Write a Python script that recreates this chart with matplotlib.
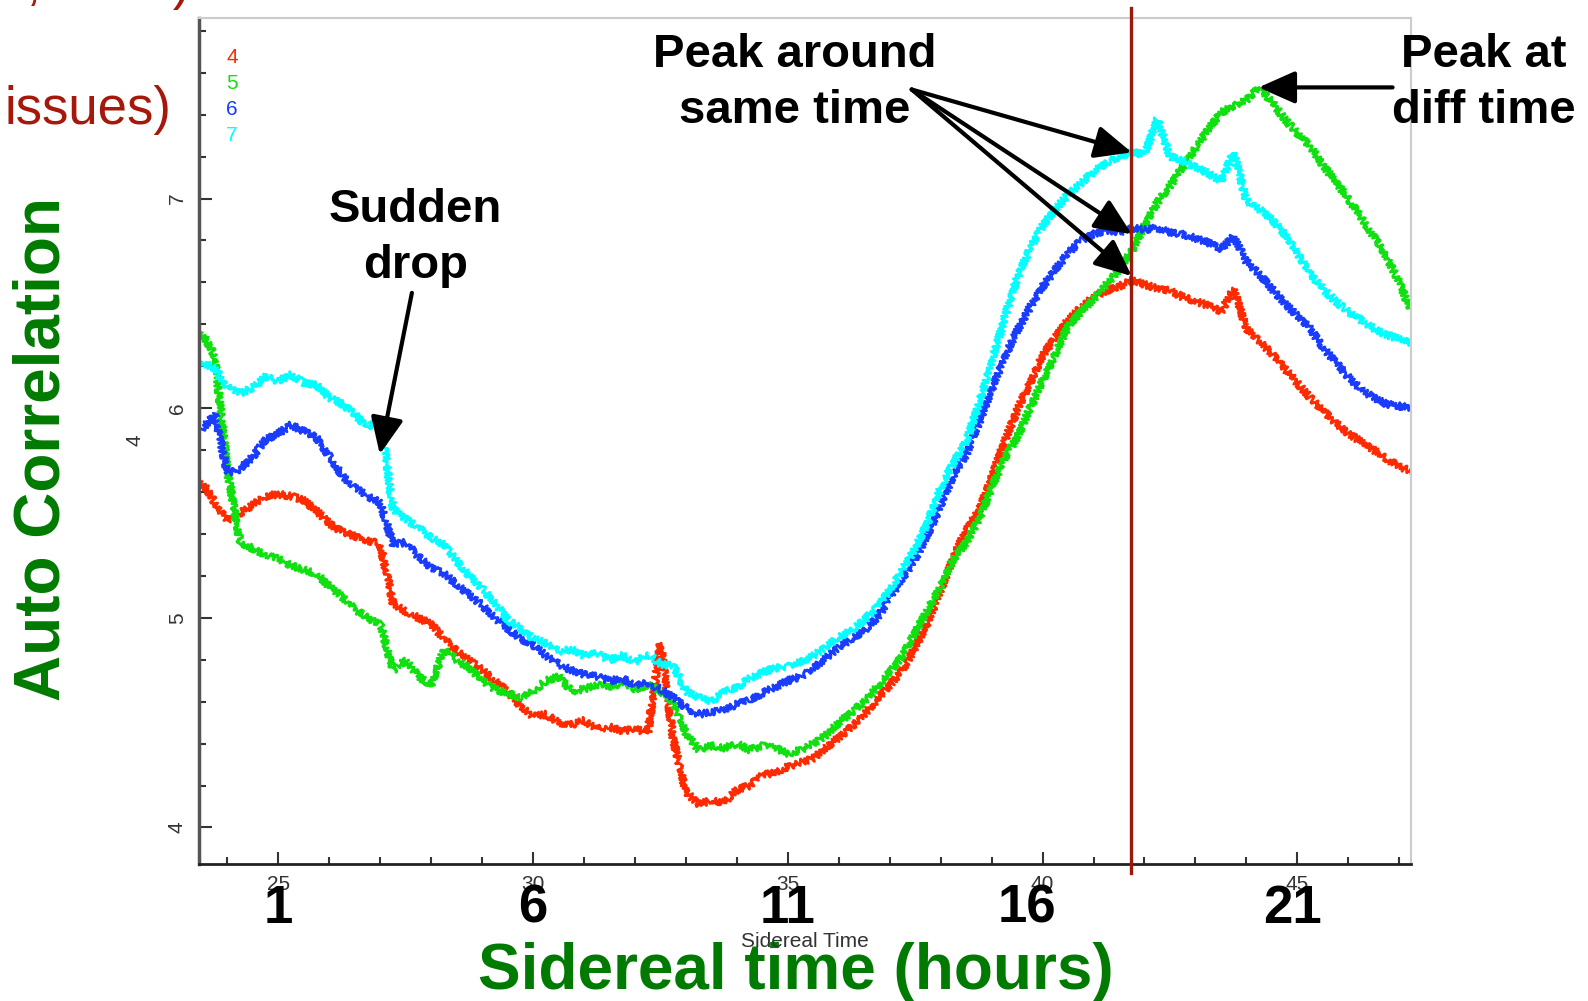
import numpy as np
import matplotlib
matplotlib.use("Agg")
import matplotlib.pyplot as plt
from matplotlib.ticker import MultipleLocator

plt.rcParams['font.family'] = ['Liberation Sans', 'DejaVu Sans']

# sidereal time samples (original plot units), one every 0.25
sidereal = np.arange(23.5, 47.26, 0.25)

# auto correlation per channel
chan4 = [5.65, 5.55, 5.46, 5.50, 5.54, 5.58, 5.59, 5.58,
         5.56, 5.51, 5.45, 5.41, 5.39, 5.37, 5.35, 5.07,
         5.03, 5.00, 4.97, 4.90, 4.84, 4.80, 4.75, 4.70,
         4.65, 4.58, 4.53, 4.54, 4.50, 4.49, 4.51, 4.47,
         4.48, 4.46, 4.47, 4.45, 4.88, 4.42, 4.17, 4.11,
         4.13, 4.12, 4.18, 4.20, 4.25, 4.26, 4.29, 4.31,
         4.33, 4.38, 4.43, 4.48, 4.54, 4.61, 4.68, 4.75,
         4.86, 4.98, 5.13, 5.29, 5.42, 5.51, 5.67, 5.84,
         5.99, 6.12, 6.25, 6.34, 6.42, 6.48, 6.53, 6.56,
         6.58, 6.61, 6.59, 6.57, 6.56, 6.53, 6.51, 6.49,
         6.46, 6.57, 6.38, 6.32, 6.26, 6.19, 6.12, 6.05,
         5.99, 5.93, 5.88, 5.84, 5.80, 5.76, 5.72, 5.70]
chan5 = [6.36, 6.25, 5.70, 5.36, 5.33, 5.30, 5.28, 5.25,
         5.23, 5.21, 5.15, 5.10, 5.04, 5.00, 4.97, 4.75,
         4.80, 4.72, 4.68, 4.85, 4.80, 4.76, 4.70, 4.66,
         4.64, 4.62, 4.65, 4.70, 4.72, 4.65, 4.66, 4.68,
         4.67, 4.69, 4.66, 4.68, 4.65, 4.60, 4.45, 4.37,
         4.39, 4.38, 4.40, 4.37, 4.39, 4.38, 4.35, 4.37,
         4.40, 4.44, 4.50, 4.55, 4.60, 4.67, 4.74, 4.82,
         4.93, 5.04, 5.15, 5.28, 5.36, 5.47, 5.62, 5.76,
         5.86, 6.00, 6.13, 6.26, 6.39, 6.46, 6.52, 6.59,
         6.66, 6.75, 6.87, 6.98, 7.06, 7.15, 7.24, 7.33,
         7.41, 7.44, 7.47, 7.53, 7.46, 7.38, 7.31, 7.25,
         7.16, 7.08, 7.00, 6.91, 6.82, 6.72, 6.60, 6.45]
chan6 = [5.90, 5.97, 5.69, 5.71, 5.77, 5.85, 5.88, 5.92,
         5.89, 5.86, 5.77, 5.68, 5.62, 5.58, 5.55, 5.35,
         5.36, 5.29, 5.24, 5.21, 5.16, 5.11, 5.06, 5.00,
         4.95, 4.90, 4.87, 4.82, 4.78, 4.75, 4.73, 4.72,
         4.70, 4.71, 4.68, 4.69, 4.66, 4.62, 4.57, 4.54,
         4.55, 4.56, 4.59, 4.61, 4.64, 4.67, 4.70, 4.72,
         4.76, 4.81, 4.86, 4.90, 4.94, 5.00, 5.09, 5.19,
         5.28, 5.40, 5.54, 5.68, 5.78, 5.93, 6.09, 6.24,
         6.37, 6.48, 6.58, 6.66, 6.74, 6.80, 6.83, 6.85,
         6.84, 6.86, 6.85, 6.86, 6.84, 6.83, 6.81, 6.79,
         6.76, 6.82, 6.70, 6.64, 6.57, 6.50, 6.44, 6.38,
         6.29, 6.22, 6.15, 6.09, 6.05, 6.02, 6.01, 6.00]
chan7 = [6.22, 6.19, 6.10, 6.07, 6.10, 6.15, 6.13, 6.16,
         6.12, 6.11, 6.05, 6.02, 5.97, 5.91, 5.96, 5.52,
         5.47, 5.43, 5.38, 5.35, 5.27, 5.20, 5.14, 5.07,
         4.99, 4.95, 4.90, 4.88, 4.84, 4.85, 4.82, 4.83,
         4.80, 4.82, 4.79, 4.83, 4.78, 4.77, 4.65, 4.62,
         4.60, 4.65, 4.67, 4.71, 4.74, 4.76, 4.77, 4.79,
         4.82, 4.86, 4.91, 4.94, 4.99, 5.05, 5.13, 5.23,
         5.33, 5.46, 5.62, 5.74, 5.84, 6.02, 6.22, 6.43,
         6.62, 6.76, 6.87, 6.95, 7.02, 7.07, 7.13, 7.17,
         7.20, 7.22, 7.21, 7.38, 7.20, 7.18, 7.15, 7.12,
         7.08, 7.22, 6.99, 6.95, 6.90, 6.83, 6.74, 6.64,
         6.57, 6.51, 6.46, 6.42, 6.38, 6.35, 6.33, 6.31]

channels = ['4', '5', '6', '7']
colors = ['#ff2a00', '#10e010', '#1a3cff', '#00ffff']

hour_labels = ['1', '6', '11', '16', '21']
hour_pos = [25, 30, 35, 39.7, 44.9]
peak_line = 41.73

fig = plt.figure(figsize=(15.88, 10.01), dpi=100)
ax = fig.add_axes([0.1256, 0.1369, 0.7629, 0.8449])

for vals, c in zip([chan4, chan5, chan6, chan7], colors):
    line, = ax.plot(sidereal, vals, color=c, lw=2)
    # jagged look of the raw trace
    line.set_sketch_params(scale=3.5, length=2, randomness=3)

ax.set_xlim(23.45, 47.23)
ax.set_ylim(3.826, 7.86)

# axis styling like the old plotting package
ax.xaxis.set_major_locator(MultipleLocator(5))
ax.xaxis.set_minor_locator(MultipleLocator(1))
ax.yaxis.set_major_locator(MultipleLocator(1))
ax.yaxis.set_minor_locator(MultipleLocator(0.2))
ax.tick_params(which='both', direction='in', colors='#333333', width=1.5)
ax.tick_params(which='major', length=9, labelsize=15, labelcolor='#333333')
ax.tick_params(which='minor', length=5)
ax.tick_params(axis='x', pad=8)
ax.tick_params(axis='y', pad=9)
for lab in ax.get_yticklabels():
    lab.set_rotation(90)
    lab.set_va('center')
for s in ['top', 'right']:
    ax.spines[s].set_color('#cccccc')
    ax.spines[s].set_linewidth(1.5)
ax.spines['left'].set_color('#555555')
ax.spines['left'].set_linewidth(2.5)
ax.spines['bottom'].set_color('#222222')
ax.spines['bottom'].set_linewidth(2)

# channel legend
for i, (name, c) in enumerate(zip(channels, colors)):
    ax.text(0.0268, 0.953 - 0.0305 * i, name, color=c, fontsize=15,
            transform=ax.transAxes, ha='center', va='center')

# marker line
ax.axvline(peak_line, ymin=-0.011, ymax=1.012, color='#9b1a0a', lw=2.4,
           clip_on=False, zorder=5)

# hours under the ticks
for p, h in zip(hour_pos, hour_labels):
    ax.text(p, -0.053, h, transform=ax.get_xaxis_transform(), ha='center',
            va='center', fontsize=38, fontweight='bold', color='black',
            family=['Liberation Sans Narrow', 'Liberation Sans'])

arrow = dict(arrowstyle='-|>,head_length=0.9,head_width=0.4', color='black',
             lw=3, mutation_scale=25, shrinkA=0, shrinkB=0)
ax.annotate('', xy=(26.99, 5.78), xytext=(27.62, 6.55), arrowprops=arrow)
for tip in [7.22, 6.83, 6.63]:
    ax.annotate('', xy=(41.75, tip), xytext=(37.43, 7.52), arrowprops=arrow)
ax.annotate('', xy=(44.24, 7.53), xytext=(46.87, 7.53), arrowprops=arrow,
            annotation_clip=False)

bold = dict(fontsize=34, fontweight='bold', color='black', ha='center',
            va='center', linespacing=1.35)
fig.text(0.2615, 0.7622, 'Sudden\ndrop', **bold)
fig.text(0.5006, 0.917, 'Peak around\nsame time', **bold)
fig.text(0.9343, 0.917, 'Peak at\ndiff time', **bold)

green = '#007a00'
fig.text(0.0268, 0.5518, 'Auto Correlation', rotation=90, fontsize=46,
         fontweight='bold', color=green, ha='center', va='center')
fig.text(0.5013, 0.029, 'Sidereal time (hours)', fontsize=46,
         fontweight='bold', color=green, ha='center', va='center')

# leftovers from the original plot and slide
fig.text(0.507, 0.059, 'Sidereal Time', fontsize=15, color='#333333',
         ha='center', va='center')
fig.text(0.0848, 0.56, '4', fontsize=15, color='#333333', rotation=90,
         ha='center', va='center')
fig.text(0.0031, 0.8906, 'issues)', fontsize=38, color='#a5180a',
         ha='left', va='center')
fig.text(0.12, 1.001, 's, 4000)', fontsize=38, color='#a5180a',
         ha='right', va='baseline')

fig.savefig('out.png', dpi=100)
